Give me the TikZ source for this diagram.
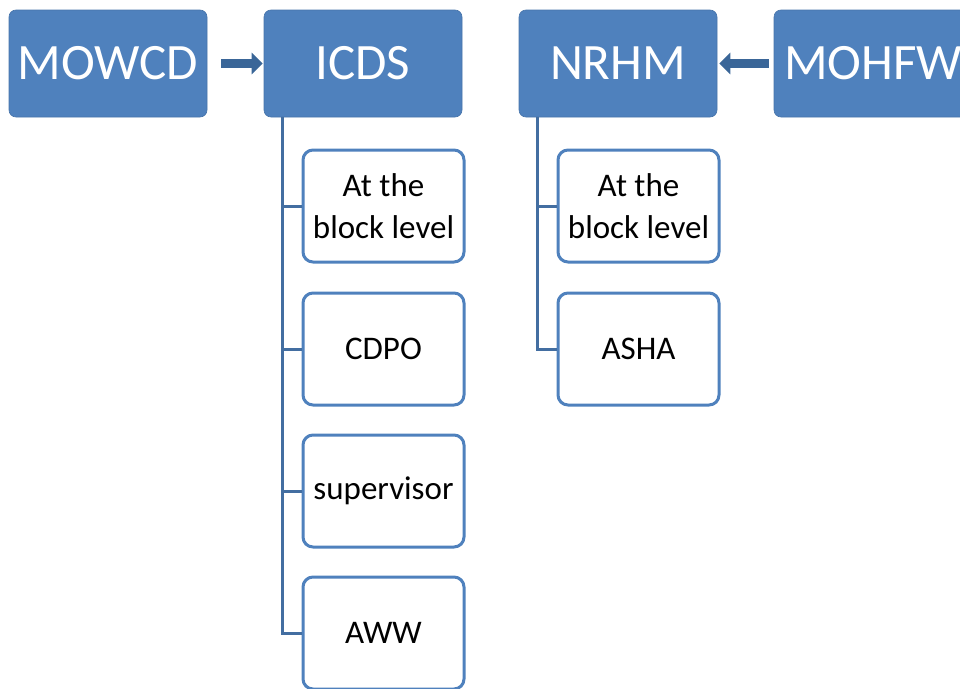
\documentclass[tikz,border=0pt]{standalone}
\usepackage{fontspec}
\setmainfont{Carlito}
\usetikzlibrary{arrows.meta}
\definecolor{boxblue}{HTML}{4F81BD}
\definecolor{arrblue}{HTML}{3A6698}
\begin{document}
\begin{tikzpicture}[x=1pt,y=-1pt,
  topbox/.style={fill=boxblue, draw=boxblue!90!black, line width=0.6pt, rounded corners=7pt,
    minimum width=198pt, minimum height=107pt, text=white, font=\fontsize{51}{55}\selectfont, inner sep=0pt},
  subbox/.style={fill=white, draw=boxblue, line width=3pt, rounded corners=10pt,
    minimum width=161pt, minimum height=112pt, text=black, font=\fontsize{33}{42}\selectfont,
    align=center, inner sep=0pt},
  conn/.style={draw=boxblue!85!black, line width=3pt},
  bigarrow/.style={draw=arrblue, line width=9pt, -{Triangle[length=11pt,width=21pt]}}]
\useasboundingbox (0,0) rectangle (960,688);
\node[topbox] (mowcd) at (108,63.5) {MOWCD};
\node[topbox] (icds) at (363,63.5) {ICDS};
\node[topbox] (nrhm) at (618,63.5) {NRHM};
\node[topbox] (mohfw) at (873,63.5) {MOHFW};
\draw[bigarrow] ([xshift=14pt]mowcd.east) -- ([xshift=-1pt]icds.west);
\draw[bigarrow] ([xshift=-5pt]mohfw.west) -- ([xshift=2pt]nrhm.east);
\node[subbox] (c1) at (383.5,206) {At the\\block level};
\node[subbox] (c2) at (383.5,349) {CDPO};
\node[subbox] (c3) at (383.5,491) {supervisor};
\node[subbox] (c4) at (383.5,633) {AWW};
\node[subbox] (n1) at (638.5,206) {At the\\block level};
\node[subbox] (n2) at (638.5,349) {ASHA};
\coordinate (icdsroot) at ([xshift=19pt]icds.south west);
\coordinate (nrhmroot) at ([xshift=19pt]nrhm.south west);
\draw[conn] (icdsroot) |- (c4.west);
\draw[conn] (icdsroot) |- (c1.west);
\draw[conn] (icdsroot) |- (c2.west);
\draw[conn] (icdsroot) |- (c3.west);
\draw[conn] (nrhmroot) |- (n2.west);
\draw[conn] (nrhmroot) |- (n1.west);
\end{tikzpicture}
\end{document}
